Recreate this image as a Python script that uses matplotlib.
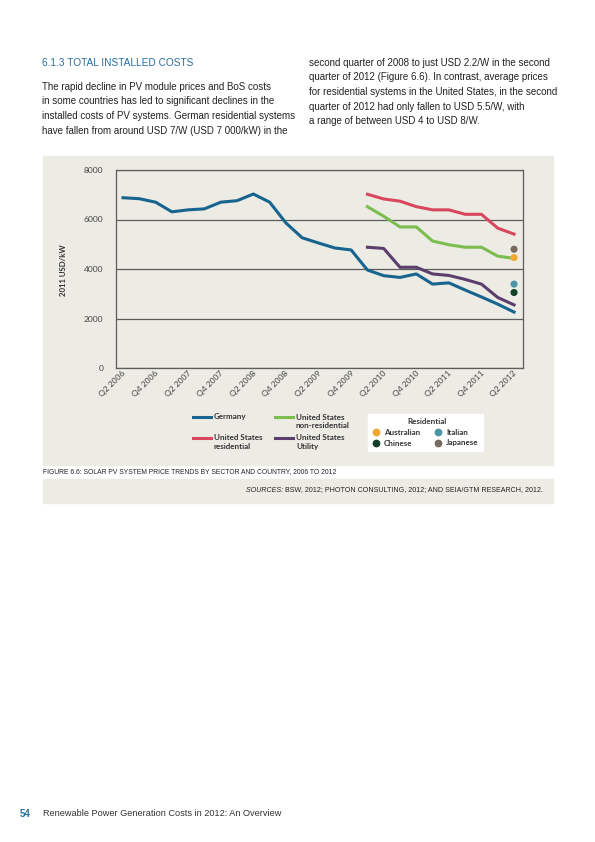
import matplotlib.pyplot as plt
import matplotlib.transforms as mtransforms
from matplotlib.patches import Rectangle

# quarters on the x axis (Q2 2006 .. Q2 2012)
quarters = ["Q2 2006", "Q3 2006", "Q4 2006", "Q1 2007", "Q2 2007", "Q3 2007", "Q4 2007",
            "Q1 2008", "Q2 2008", "Q3 2008", "Q4 2008", "Q1 2009", "Q2 2009", "Q3 2009",
            "Q4 2009", "Q1 2010", "Q2 2010", "Q3 2010", "Q4 2010", "Q1 2011", "Q2 2011",
            "Q3 2011", "Q4 2011", "Q1 2012", "Q2 2012"]
tick_labels = ["Q2 2006", "Q4 2006", "Q2 2007", "Q4 2007", "Q2 2008", "Q4 2008", "Q2 2009",
               "Q4 2009", "Q2 2010", "Q4 2010", "Q2 2011", "Q4 2011", "Q2 2012"]

# 2011 USD/kW
germany = [6880, 6840, 6700, 6310, 6390, 6430, 6700, 6760, 7030, 6700, 5860, 5260, 5050,
           4850, 4770, 3960, 3730, 3660, 3800, 3390, 3440, 3150, 2870, 2580, 2260]
us_quarters = quarters[15:]
us_residential = [7020, 6830, 6740, 6520, 6390, 6390, 6210, 6210, 5650, 5410]
us_nonresidential = [6520, 6130, 5700, 5700, 5130, 4980, 4880, 4880, 4520, 4430]
us_utility = [4880, 4830, 4070, 4070, 3800, 3740, 3580, 3390, 2850, 2550]

# residential points, Q2 2012
res_names = ["Australian", "Italian", "Chinese", "Japanese"]
res_values = [4460, 3390, 3050, 4800]

BEIGE = "#ecebe4"
BLUE_TXT = "#2a6f9e"
col_germany = "#17648f"
col_res = "#d8475f"
col_nonres = "#7bbd4f"
col_util = "#5b3e6c"
res_colors = ["#f0a82e", "#4a95a6", "#143f27", "#776b5f"]

W, H = 595, 842
body = ["Liberation Sans", "DejaVu Sans"]


def fx(x):
    return x / W


def fy(y):
    return 1 - y / H


fig = plt.figure(figsize=(5.95, 8.42), dpi=100)
fig.patch.set_facecolor("white")

# grey panels behind the chart and the sources line
fig.patches.append(Rectangle((fx(43), fy(465)), fx(553) - fx(43), fy(156) - fy(465),
                             transform=fig.transFigure, color=BEIGE, zorder=0))
fig.patches.append(Rectangle((fx(43), fy(503)), fx(553) - fx(43), fy(479) - fy(503),
                             transform=fig.transFigure, color=BEIGE, zorder=0))

# text above the chart
fig.text(fx(42), fy(63), "6.1.3 TOTAL INSTALLED COSTS", color=BLUE_TXT, fontsize=7.3,
         family=body, va="center")
left_col = ["The rapid decline in PV module prices and BoS costs",
            "in some countries has led to significant declines in the",
            "installed costs of PV systems. German residential systems",
            "have fallen from around USD 7/W (USD 7 000/kW) in the"]
for i, line in enumerate(left_col):
    fig.text(fx(42), fy(86.7 + i * 14.8), line, fontsize=7.05, family=body, color="#222222",
             va="center")
right_col = ["second quarter of 2008 to just USD 2.2/W in the second",
             "quarter of 2012 (Figure 6.6). In contrast, average prices",
             "for residential systems in the United States, in the second",
             "quarter of 2012 had only fallen to USD 5.5/W, with",
             "a range of between USD 4 to USD 8/W."]
for i, line in enumerate(right_col):
    fig.text(fx(309), fy(62.7 + i * 14.6), line, fontsize=7.0, family=body, color="#222222",
             va="center")

# chart
ax = fig.add_axes([fx(116), fy(368), fx(523) - fx(116), fy(170) - fy(368)])
ax.set_zorder(2)
ax.set_facecolor(BEIGE)
x_all = list(range(len(quarters)))
x_us = [quarters.index(q) for q in us_quarters]
ax.plot(x_all, germany, color=col_germany, lw=2.2, solid_joinstyle="round", zorder=3)
ax.plot(x_us, us_residential, color=col_res, lw=2.2, solid_joinstyle="round", zorder=3)
ax.plot(x_us, us_nonresidential, color=col_nonres, lw=2.2, solid_joinstyle="round", zorder=3)
ax.plot(x_us, us_utility, color=col_util, lw=2.2, solid_joinstyle="round", zorder=3)
x_last = [len(quarters) - 1] * len(res_values)
ax.scatter(x_last, res_values, s=26, c=res_colors, zorder=4, linewidths=0)

ax.set_xlim(-0.43, 24.55)
ax.set_ylim(0, 8000)
ax.set_yticks([0, 2000, 4000, 6000, 8000])
ax.set_yticklabels(["0", "2000", "4000", "6000", "8000"])
ax.set_xticks([quarters.index(t) for t in tick_labels])
ax.set_xticklabels(tick_labels, rotation=45, ha="right", va="top")
ax.tick_params(axis="both", length=0, labelsize=6.1, labelcolor="#444444")
ax.tick_params(axis="y", pad=9)
ax.tick_params(axis="x", pad=1)
shift = mtransforms.ScaledTranslation(4 / 100, 0, fig.dpi_scale_trans)
for lab in ax.get_xticklabels():
    lab.set_transform(lab.get_transform() + shift)
for lab in ax.get_xticklabels() + ax.get_yticklabels():
    lab.set_family(["Lato", "DejaVu Sans"])
ax.yaxis.grid(True, color="#5c5c5c", lw=0.9)
ax.set_axisbelow(True)
for s in ax.spines.values():
    s.set_color("#5c5c5c")
    s.set_linewidth(0.9)

fig.text(fx(63), fy(270), "2011 USD/kW", rotation=90, fontsize=5.6, fontweight="bold",
         ha="center", va="center", color="#333333", family=["Lato", "DejaVu Sans"])

# legend
leg_font = dict(fontsize=5.8, fontweight="bold", color="#333333", family=["Lato", "DejaVu Sans"])
legend_lines = [(193, 417, col_germany, ["Germany"]),
                (275, 417, col_nonres, ["United States", "non-residential"]),
                (193, 438, col_res, ["United States", "residential"]),
                (275, 438, col_util, ["United States", "Utility"])]
for x0, y0, c, lines in legend_lines:
    fig.add_artist(plt.Line2D([fx(x0), fx(x0 + 18)], [fy(y0), fy(y0)], color=c, lw=2.2,
                              transform=fig.transFigure, zorder=3))
    for j, t in enumerate(lines):
        fig.text(fx(x0 + 21), fy(y0 + j * 8.3), t, va="center", **leg_font)

fig.patches.append(Rectangle((fx(368), fy(451)), fx(483) - fx(368), fy(414) - fy(451),
                             transform=fig.transFigure, color="white", zorder=1))
fig.text(fx(427), fy(421), "Residential", ha="center", va="center", **leg_font)
dot_pos = {"Australian": (376, 432), "Italian": (438, 432),
           "Chinese": (376, 443), "Japanese": (438, 443)}
for name, c in zip(res_names, res_colors):
    px, py = dot_pos[name]
    fig.add_artist(plt.Line2D([fx(px)], [fy(py)], marker="o", markersize=4.6, color=c, lw=0,
                              transform=fig.transFigure, zorder=3))
    fig.text(fx(px + 8), fy(py), name, va="center", **leg_font)

# caption and sources
fig.text(fx(43), fy(472), "FIGURE 6.6: SOLAR PV SYSTEM PRICE TRENDS BY SECTOR AND COUNTRY, 2006 TO 2012",
         fontsize=4.85, family=body, va="center", color="#222222")
src = fig.text(fx(543), fy(490), "BSW, 2012; PHOTON CONSULTING, 2012; AND SEIA/GTM RESEARCH, 2012.",
               fontsize=5.1, family=body, va="center", ha="right", color="#222222")
fig.canvas.draw()
src_left = src.get_window_extent().x0 / (W)
fig.text(src_left, fy(490), "SOURCES: ", fontsize=5.1, family=body, va="center",
         ha="right", style="italic", color="#222222")

# footer
fig.text(fx(20), fy(814), "54", fontsize=7, color=BLUE_TXT, family=body, va="center",
         fontweight="bold")
fig.text(fx(43), fy(814), "Renewable Power Generation Costs in 2012: An Overview", fontsize=6.6,
         color="#333333", family=body, va="center")

fig.savefig("out.png", dpi=100, facecolor="white")
